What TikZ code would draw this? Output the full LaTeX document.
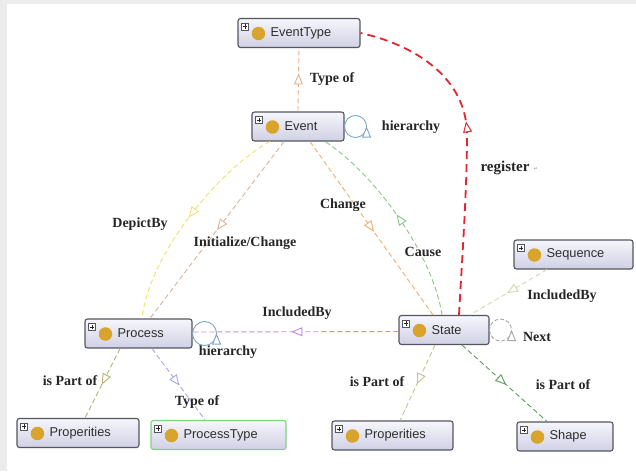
\documentclass[tikz,border=0pt]{standalone}
\usepackage{fontspec}
\setmainfont{Liberation Serif}
\setsansfont{Liberation Sans}
\newfontfamily\symfont{DejaVu Sans}
\usetikzlibrary{arrows.meta,decorations.markings}

\definecolor{framegrey}{HTML}{ECECEC}
\definecolor{boxline}{HTML}{55555F}
\definecolor{boxtop}{HTML}{F6F6FC}
\definecolor{boxbot}{HTML}{D0D0E5}
\definecolor{dotgold}{HTML}{D9A42B}
\definecolor{textgrey}{HTML}{2E2E2E}
\definecolor{lbltext}{HTML}{262626}
\definecolor{ctypeof}{HTML}{E9AD8C}
\definecolor{cdepict}{HTML}{F0E070}
\definecolor{cinit}{HTML}{D8B49C}
\definecolor{cchange}{HTML}{F2AE6C}
\definecolor{ccause}{HTML}{86C886}
\definecolor{cincl}{HTML}{C68AE6}
\definecolor{creg}{HTML}{E3262F}
\definecolor{chier}{HTML}{7EA6C4}
\definecolor{cnext}{HTML}{A8A8A8}
\definecolor{cpartR}{HTML}{C6C48E}
\definecolor{cshape}{HTML}{5C9C5C}
\definecolor{cseq}{HTML}{D8D8AE}
\definecolor{cpartL}{HTML}{B6B070}
\definecolor{cptype}{HTML}{A6A6EE}
\definecolor{ptborder}{HTML}{7ED47E}

\tikzset{
  classbox/.style={draw=boxline, line width=1.1pt, rounded corners=2.5pt,
    top color=boxtop, bottom color=boxbot, minimum height=29pt, inner sep=0pt},
  plusbox/.style={draw=boxline, fill=white, line width=0.5pt, minimum size=7pt,
    inner sep=0pt, path picture={
      \draw[line width=0.6pt, black!85]
        ([xshift=-2.3pt]path picture bounding box.center) --
        ([xshift=2.3pt]path picture bounding box.center);
      \draw[line width=0.6pt, black!85]
        ([yshift=-2.3pt]path picture bounding box.center) --
        ([yshift=2.3pt]path picture bounding box.center);}},
  classdot/.style={circle, fill=dotgold, minimum size=13.5pt, inner sep=0pt},
  classtext/.style={anchor=west, font=\sffamily\fontsize{12.8}{14}\selectfont,
    text=textgrey, inner sep=0pt},
  rel/.style={dash pattern=on 5pt off 3pt, line width=0.9pt},
  tipat/.style={decoration={markings, mark=at position #1 with
      {\arrow{Triangle[length=11pt, width=9pt, fill=white, line width=0.9pt]}}},
    postaction={decorate}},
  tipat/.default=0.52,
  lbl/.style={font=\bfseries\fontsize{14}{16}\selectfont, text=lbltext, inner sep=1pt},
}

% one ontology class: [extra style]{name}{cx}{cy}{width}{label}
\newcommand\ontoclass[6][]{%
  \node[classbox, minimum width=#5pt, #1] (#2) at (#3,#4) {};
  \node[plusbox] (#2-plus) at ([xshift=7.5pt,yshift=-8.5pt]#2.north west) {};
  \node[classdot] (#2-dot) at ([xshift=21pt,yshift=-0.5pt]#2.west) {};
  \node[classtext] (#2-text) at ([xshift=33pt]#2.west) {#6};
}

\begin{document}
\begin{tikzpicture}[x=1pt, y=-1pt]
  % page frame
  \fill[framegrey] (0,0) rectangle (636,471);
  \fill[white] (7,4) rectangle (636,471);
  \useasboundingbox (0,0) rectangle (636,471);

  % classes
  \ontoclass{EventType}{299}{33}{122}{EventType}
  \ontoclass{Event}{298}{126.5}{92}{Event}
  \ontoclass{Process}{138.5}{333.5}{107}{Process}
  \ontoclass{State}{444}{330}{90}{State}
  \ontoclass{Sequence}{573.5}{254.5}{119}{Sequence}
  \ontoclass{propL}{78}{433}{122}{Properities}
  \ontoclass[draw=ptborder]{ptype}{218.5}{435}{135}{ProcessType}
  \ontoclass{propR}{392.5}{435.5}{121}{Properities}
  \ontoclass{Shape}{565}{436.5}{96}{Shape}

  % relations around Event
  \draw[rel, ctypeof, tipat=0.6] (Event.north) -- (EventType.south);
  \node[lbl] (l-typeof) at (332,79) {Type of};

  \draw[chier, line width=0.9pt, tipat=0.5] (Event.east)
    arc[start angle=180, end angle=-180, radius=11];
  \node[lbl] (l-hier1) at (411,127) {hierarchy};

  \draw[rel, cdepict, tipat=0.5] ([xshift=-28pt]Event.south)
    .. controls (225,165) and (150,250) .. ([xshift=3.5pt]Process.north);
  \node[lbl] (l-depict) at (140,224) {DepictBy};

  \draw[rel, cinit, tipat=0.5] ([xshift=-14pt]Event.south) -- ([xshift=11.5pt]Process.north);
  \node[lbl] (l-init) at (245,243) {Initialize/Change};

  \draw[rel, cchange, tipat] ([xshift=12pt]Event.south) -- ([xshift=-11pt]State.north);
  \node[lbl] (l-change) at (343,205) {Change};

  \draw[rel, ccause, tipat] ([xshift=-2pt]State.north)
    .. controls (432,250) and (370,170) .. ([xshift=27pt]Event.south);
  \node[lbl] (l-cause) at (423,252) {Cause};

  % register
  \draw[creg, line width=1.8pt, dash pattern=on 8pt off 5pt,
    decoration={markings, mark=at position 0.57 with
      {\arrow{Triangle[length=11pt, width=9pt, fill=white, line width=1pt]}}},
    postaction={decorate}]
    ([xshift=15pt]State.north) .. controls (462,260) and (467,190) .. (467,135)
    .. controls (467,78) and (415,45) .. (EventType.east);
  \node[lbl, font=\bfseries\fontsize{15}{17}\selectfont] (l-reg) at (505,168) {register};
  \node[text=black!45, inner sep=0pt, font=\symfont\fontsize{5}{6}\selectfont]
    (l-regmark) at (536,169) {↵};

  % relations around Process
  \draw[rel, cincl, tipat] ([yshift=-1.5pt]State.west) -- ([yshift=1.5pt]Process.east);
  \node[lbl] (l-incl) at (297,313) {IncludedBy};

  \draw[chier, line width=0.9pt, tipat=0.5] (Process.east)
    arc[start angle=180, end angle=-180, radius=12];
  \node[lbl] (l-hier2) at (228,352) {hierarchy};

  \draw[rel, cpartL, tipat] ([xshift=-18.5pt]Process.south) -- ([xshift=7pt]propL.north);
  \node[lbl] (l-partL) at (70,381) {is Part of};

  \draw[rel, cptype, tipat] ([xshift=13.5pt]Process.south) -- ([xshift=-13.5pt]ptype.north);
  \node[lbl] (l-ptype) at (197,402) {Type of};

  % relations around State
  \draw[rel, cseq, tipat] ([xshift=-26.5pt]Sequence.south) -- ([xshift=26pt]State.north);
  \node[lbl] (l-seq) at (562,296) {IncludedBy};

  \draw[cnext, line width=0.9pt, dash pattern=on 4pt off 2pt, tipat=0.5] (State.east)
    arc[start angle=180, end angle=-180, radius=11];
  \node[lbl] (l-next) at (537,337) {Next};

  \draw[rel, cpartR, tipat] ([xshift=-9pt]State.south) -- ([xshift=7.5pt]propR.north);
  \node[lbl] (l-partR) at (377,382) {is Part of};

  \draw[rel, cshape, tipat] ([xshift=18pt]State.south) -- ([xshift=-18pt]Shape.north);
  \node[lbl] (l-shape) at (563,385) {is Part of};
\end{tikzpicture}
\end{document}
